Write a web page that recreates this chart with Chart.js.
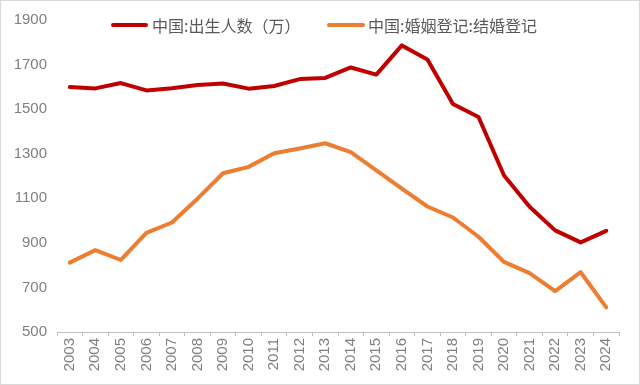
<!DOCTYPE html>
<html>
<head>
<meta charset="utf-8">
<script src="https://cdn.jsdelivr.net/npm/chart.js@4"></script>
<style>
  html, body { margin: 0; padding: 0; background: #fff; }
  #wrap { position: relative; width: 640px; height: 385px; }
  #chart { position: absolute; left: 0; top: 0; }
  #frame { position: absolute; left: 0; top: 0; width: 640px; height: 385px;
           box-sizing: border-box; border: 1px solid #d9d9d9; pointer-events: none; }
  .swatch { position: absolute; height: 4px; border-radius: 2px; }
  .label { position: absolute; font: 16px "Noto Sans CJK SC", sans-serif; color: #595959;
           line-height: 20px; white-space: nowrap; }
</style>
</head>
<body>
<div id="wrap">
  <canvas id="chart" width="640" height="385"></canvas>
  <div class="swatch" style="left:111px; top:23px; width:37px; background:#c00000"></div>
  <div class="label" style="left:152px; top:15px">中国:出生人数（万）</div>
  <div class="swatch" style="left:327px; top:23px; width:38px; background:#ed7d31"></div>
  <div class="label" style="left:368px; top:15px">中国:婚姻登记:结婚登记</div>
  <div id="frame"></div>
</div>
<script>
// Données
const years = ["2003","2004","2005","2006","2007","2008","2009","2010","2011","2012","2013",
               "2014","2015","2016","2017","2018","2019","2020","2021","2022","2023","2024"];
const births = [1599, 1593, 1617, 1584, 1594, 1608, 1615, 1592, 1604, 1635, 1640,
                1687, 1655, 1786, 1723, 1523, 1465, 1202, 1062, 956, 902, 954];
const marriages = [811.4, 867.2, 823.1, 945, 991.4, 1098.3, 1212.4, 1241, 1302.4, 1323.6, 1346.9,
                   1306.7, 1224.7, 1142.8, 1063.1, 1013.9, 927.3, 814.3, 764.3, 683.5, 768.2, 610.6];
const yMin = 500;
const yMax = 1900;
const yStep = 200;

const tickFont = { family: "'Liberation Sans', Arial, sans-serif", size: 15 };

new Chart(document.getElementById("chart"), {
  type: "line",
  data: {
    labels: years,
    datasets: [
      { label: "中国:出生人数（万）", data: births, borderColor: "#c00000", backgroundColor: "#c00000" },
      { label: "中国:婚姻登记:结婚登记", data: marriages, borderColor: "#ed7d31", backgroundColor: "#ed7d31" }
    ]
  },
  options: {
    responsive: false,
    animation: false,
    layout: { padding: { top: 20, right: 21, bottom: 0, left: 0 } },
    elements: {
      line: { borderWidth: 4, tension: 0, borderCapStyle: "round", borderJoinStyle: "round" },
      point: { radius: 0 }
    },
    plugins: { legend: { display: false }, tooltip: { enabled: false } },
    scales: {
      x: {
        offset: true,
        grid: { drawOnChartArea: false, drawTicks: true, tickLength: 4, color: "#bfbfbf", offset: true },
        border: { display: true, color: "#bfbfbf", width: 1 },
        ticks: { minRotation: 90, maxRotation: 90, padding: 2, color: "#7f7f7f", font: tickFont, autoSkip: false },
        afterFit: s => { s.height = 53; }
      },
      y: {
        min: yMin,
        max: yMax,
        grid: { display: false, drawTicks: false },
        border: { display: false },
        ticks: { stepSize: yStep, padding: 10, color: "#7f7f7f", font: tickFont, callback: v => String(v) },
        afterFit: s => { s.width = 57; }
      }
    }
  }
});
</script>
</body>
</html>
